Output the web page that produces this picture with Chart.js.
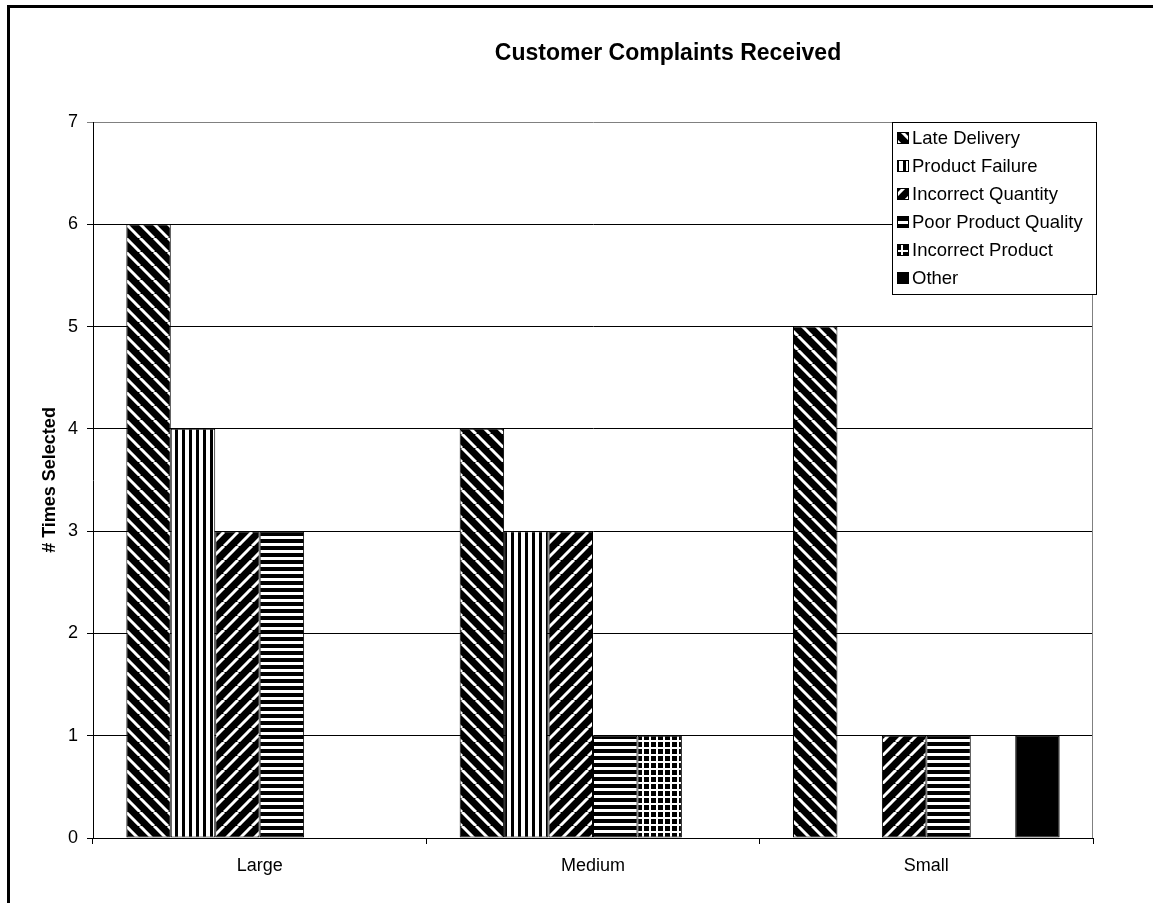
<!DOCTYPE html>
<html>
<head>
<meta charset="utf-8">
<script src="https://cdn.jsdelivr.net/npm/chart.js@4.4.1/dist/chart.umd.min.js"></script>
<style>
    html, body { margin: 0; padding: 0; background: #fff; overflow: hidden; }
    #frame { position: absolute; left: 7px; top: 5px; width: 1200px; height: 950px; border-top: 3px solid #000; border-left: 3px solid #000; pointer-events: none; }
    #chart { position: absolute; left: 0; top: 0; }
</style>
</head>
<body>
<canvas id="chart" width="1153" height="903"></canvas>
<div id="frame"></div>
<script>
const chartTitle = 'Customer Complaints Received'; /** 차트 제목 */
const yAxisTitle = '# Times Selected'; /** Y축 제목 */
const categories = ['Large', 'Medium', 'Small']; /** 회사 규모 */
const yTicks = [0, 1, 2, 3, 4, 5, 6, 7]; /** Y축 눈금 */

/** 항목별 불만 건수 */
const lateDelivery = [6, 4, 5];
const productFailure = [4, 3, 0];
const incorrectQuantity = [3, 3, 1];
const poorProductQuality = [3, 1, 1];
const incorrectProduct = [0, 1, 0];
const other = [0, 0, 1];

const seriesNames = ['Late Delivery', 'Product Failure', 'Incorrect Quantity', 'Poor Product Quality', 'Incorrect Product', 'Other'];
const seriesValues = [lateDelivery, productFailure, incorrectQuantity, poorProductQuality, incorrectProduct, other];

const FONT = "'Liberation Sans', Arial, sans-serif";

/** 패턴 타일 만들기 */
function makePattern(size, draw) {
    const c = document.createElement('canvas');
    c.width = size;
    c.height = size;
    const g = c.getContext('2d');
    draw(g, size);
    return g.createPattern(c, 'repeat');
}

/** 대각선 줄무늬 (dir 1 = \, -1 = /) */
function diagonal(dir) {
    return makePattern(14, (g, s) => {
        g.fillStyle = '#000';
        g.fillRect(0, 0, s, s);
        g.strokeStyle = '#fff';
        g.lineWidth = 3;
        for (let k = -1; k <= 1; k++) {
            g.beginPath();
            if (dir > 0) {
                g.moveTo(k * s, 0);
                g.lineTo(k * s + s, s);
            } else {
                g.moveTo(k * s + s, 0);
                g.lineTo(k * s, s);
            }
            g.stroke();
        }
    });
}

const patterns = [
    diagonal(1),
    makePattern(7, (g, s) => { g.fillStyle = '#fff'; g.fillRect(0, 0, s, s); g.fillStyle = '#000'; g.fillRect(0, 0, 3, s); }),
    diagonal(-1),
    makePattern(7, (g, s) => { g.fillStyle = '#fff'; g.fillRect(0, 0, s, s); g.fillStyle = '#000'; g.fillRect(0, 0, s, 4); }),
    makePattern(7, (g, s) => { g.fillStyle = '#fff'; g.fillRect(0, 0, s, s); g.fillStyle = '#000'; g.fillRect(0, 0, 5, 5); }),
    '#000'
];

/** 제목, 플롯 테두리, 범례 그리기 */
const decorPlugin = {
    id: 'decor',
    beforeDatasetsDraw(chart) {
        const { ctx, chartArea: a } = chart;
        ctx.save();
        ctx.strokeStyle = '#808080';
        ctx.lineWidth = 1;
        ctx.beginPath();
        ctx.moveTo(a.right - 0.5, a.top);
        ctx.lineTo(a.right - 0.5, a.bottom);
        ctx.stroke();
        ctx.restore();
    },
    afterDraw(chart) {
        const { ctx } = chart;
        ctx.save();
        ctx.fillStyle = '#000';
        ctx.font = 'bold 23px ' + FONT;
        ctx.textAlign = 'center';
        ctx.textBaseline = 'alphabetic';
        ctx.fillText(chartTitle, 668, 60);

        /** 범례 상자 */
        const bx = 892, by = 122, bw = 204, rowH = 28;
        const bh = rowH * seriesNames.length + 4;
        ctx.fillStyle = '#fff';
        ctx.fillRect(bx, by, bw, bh);
        ctx.strokeStyle = '#000';
        ctx.lineWidth = 1;
        ctx.strokeRect(bx + 0.5, by + 0.5, bw, bh);

        ctx.font = '18.5px ' + FONT;
        ctx.textAlign = 'left';
        ctx.textBaseline = 'middle';
        chart.data.datasets.forEach((ds, i) => {
            const cy = by + 16 + i * rowH;
            ctx.fillStyle = ds.backgroundColor;
            ctx.fillRect(bx + 5, cy - 6, 12, 12);
            ctx.strokeStyle = '#000';
            ctx.strokeRect(bx + 5.5, cy - 5.5, 11, 11);
            ctx.fillStyle = '#000';
            ctx.fillText(ds.label, bx + 20, cy + 1);
        });
        ctx.restore();
    }
};

const ctx = document.getElementById('chart').getContext('2d');

new Chart(ctx, {
    type: 'bar',
    data: {
        labels: categories,
        datasets: seriesNames.map((name, i) => ({
            label: name,
            data: seriesValues[i],
            backgroundColor: patterns[i],
            borderColor: '#000',
            borderWidth: 1,
            borderSkipped: false,
            categoryPercentage: 0.8,
            barPercentage: 1.0
        }))
    },
    options: {
        responsive: false, /** 고정 크기 */
        animation: false,
        layout: { padding: { left: 0, top: 122, right: 60, bottom: 25 } },
        plugins: {
            legend: { display: false },
            title: { display: false },
            tooltip: { enabled: false }
        },
        scales: {
            x: {
                afterFit(scale) { scale.height = 40; },
                grid: { display: true, drawOnChartArea: false, drawTicks: true, tickLength: 6, color: '#000', offset: true },
                border: { display: true, color: '#000', width: 1 },
                ticks: { color: '#000', padding: 11, font: { family: FONT, size: 18 } }
            },
            y: {
                min: yTicks[0],
                max: yTicks[yTicks.length - 1],
                afterFit(scale) { scale.width = 93; },
                afterBuildTicks(scale) { scale.ticks = yTicks.map(v => ({ value: v })); },
                grid: {
                    color: c => (c.tick && c.tick.value === 7 ? '#808080' : '#000'),
                    lineWidth: 1,
                    tickLength: 6
                },
                border: { display: true, color: '#000', width: 1 },
                ticks: { color: '#000', padding: 9, font: { family: FONT, size: 18 } },
                title: {
                    display: true,
                    text: yAxisTitle,
                    color: '#000',
                    font: { family: FONT, size: 18, weight: 'bold' },
                    padding: { top: 39, bottom: 0 }
                }
            }
        }
    },
    plugins: [decorPlugin]
});
</script>
</body>
</html>
